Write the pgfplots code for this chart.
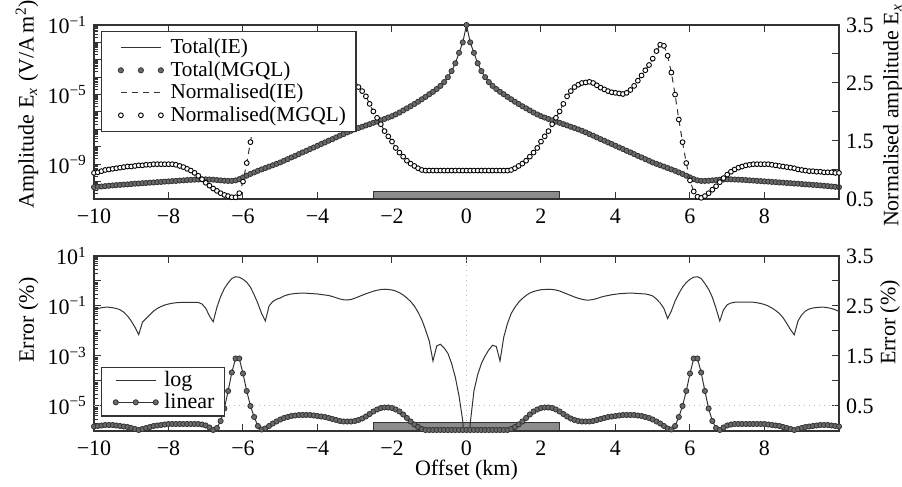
\documentclass[border=0pt]{standalone}
\usepackage{pgfplots}
\pgfplotsset{compat=1.18}
\usepackage{pgfplotstable}
\usepackage{fontspec}
\setmainfont{Liberation Serif}

\definecolor{ln}{HTML}{333333}
\definecolor{mk}{HTML}{6A6A6A}
\definecolor{rectc}{HTML}{8C8C8C}
\definecolor{grd}{HTML}{BBBBBB}

% x, log10 total amplitude, normalised amplitude, log10 error (log), error (linear)
\pgfplotstableread{
x t n le li
-10.0 -10.32 0.95 -1.13 0.09
-9.9 -10.3 0.96 -1.1 0.1
-9.8 -10.28 0.98 -1.07 0.11
-9.7 -10.26 1.0 -1.05 0.12
-9.6 -10.24 1.01 -1.05 0.12
-9.5 -10.22 1.02 -1.07 0.12
-9.4 -10.2 1.03 -1.1 0.11
-9.3 -10.19 1.04 -1.15 0.1
-9.2 -10.17 1.05 -1.25 0.09
-9.1 -10.16 1.06 -1.4 0.08
-9.0 -10.14 1.06 -1.6 0.06
-8.9 -10.12 1.07 -1.85 0.04
-8.8 -10.11 1.08 -2.15 0.02
-8.7 -10.09 1.08 -1.65 0.04
-8.6 -10.08 1.09 -1.5 0.06
-8.5 -10.06 1.09 -1.35 0.08
-8.4 -10.05 1.1 -1.2 0.1
-8.3 -10.03 1.1 -1.1 0.11
-8.2 -10.02 1.1 -1.02 0.12
-8.1 -10.0 1.1 -0.96 0.13
-8.0 -9.99 1.1 -0.92 0.14
-7.9 -9.97 1.1 -0.89 0.14
-7.8 -9.96 1.09 -0.87 0.14
-7.7 -9.94 1.07 -0.86 0.14
-7.6 -9.93 1.05 -0.85 0.14
-7.5 -9.91 1.02 -0.85 0.14
-7.4 -9.9 0.99 -0.85 0.14
-7.3 -9.89 0.95 -0.85 0.14
-7.2 -9.88 0.9 -0.86 0.14
-7.1 -9.87 0.84 -0.92 0.13
-7.0 -9.87 0.78 -1.09 0.11
-6.9 -9.88 0.73 -1.4 0.07
-6.8 -9.89 0.68 -1.63 0.02
-6.7 -9.91 0.64 -1.05 0.06
-6.6 -9.93 0.6 -0.62 0.2
-6.5 -9.95 0.57 -0.3 0.45
-6.4 -9.96 0.55 -0.08 0.8
-6.3 -9.96 0.53 0.1 1.17
-6.2 -9.93 0.53 0.17 1.45
-6.1 -9.86 0.6 0.15 1.45
-6.0 -9.76 0.8 0.07 1.15
-5.9 -9.66 1.12 -0.05 0.8
-5.8 -9.56 1.48 -0.25 0.5
-5.7 -9.47 1.87 -0.55 0.28
-5.6 -9.38 2.3 -0.9 0.1
-5.5 -9.3 2.68 -1.3 0.03
-5.4 -9.22 2.97 -1.6 0.05
-5.3 -9.14 3.14 -1.0 0.1
-5.2 -9.06 3.16 -0.82 0.15
-5.1 -8.98 3.05 -0.73 0.19
-5.0 -8.9 2.92 -0.68 0.23
-4.9 -8.8 2.81 -0.6 0.26
-4.8 -8.71 2.72 -0.55 0.28
-4.7 -8.61 2.63 -0.52 0.3
-4.6 -8.52 2.54 -0.5 0.31
-4.5 -8.42 2.45 -0.49 0.32
-4.4 -8.32 2.38 -0.49 0.32
-4.3 -8.23 2.33 -0.49 0.32
-4.2 -8.13 2.31 -0.5 0.32
-4.1 -8.04 2.32 -0.51 0.31
-4.0 -7.94 2.33 -0.52 0.3
-3.9 -7.84 2.34 -0.54 0.29
-3.8 -7.75 2.36 -0.56 0.28
-3.7 -7.65 2.39 -0.58 0.26
-3.6 -7.56 2.42 -0.62 0.24
-3.5 -7.46 2.46 -0.67 0.22
-3.4 -7.36 2.5 -0.72 0.2
-3.3 -7.27 2.52 -0.75 0.19
-3.2 -7.17 2.51 -0.76 0.19
-3.1 -7.08 2.5 -0.74 0.19
-3.0 -7.0 2.47 -0.69 0.2
-2.9 -6.92 2.43 -0.63 0.22
-2.8 -6.85 2.36 -0.57 0.25
-2.7 -6.77 2.27 -0.51 0.29
-2.6 -6.7 2.14 -0.46 0.34
-2.5 -6.62 2.01 -0.41 0.39
-2.4 -6.55 1.9 -0.37 0.43
-2.3 -6.48 1.79 -0.34 0.46
-2.2 -6.4 1.67 -0.33 0.47
-2.1 -6.32 1.58 -0.34 0.47
-2.0 -6.24 1.49 -0.36 0.46
-1.9 -6.14 1.38 -0.4 0.43
-1.8 -6.03 1.3 -0.47 0.39
-1.7 -5.91 1.23 -0.56 0.33
-1.6 -5.79 1.16 -0.68 0.26
-1.5 -5.67 1.11 -0.82 0.19
-1.4 -5.54 1.07 -1.0 0.13
-1.3 -5.41 1.03 -1.25 0.08
-1.2 -5.27 1.0 -1.55 0.04
-1.1 -5.13 0.99 -1.95 0.02
-1.0 -4.98 0.99 -2.4 0.02
-0.9 -4.84 0.99 -3.2 0.02
-0.8 -4.68 0.99 -2.6 0.02
-0.7 -4.5 0.99 -2.53 0.02
-0.6 -4.28 0.99 -2.68 0.02
-0.5 -4.0 0.99 -2.89 0.02
-0.4 -3.65 0.99 -3.3 0.02
-0.3 -3.2 0.99 -3.85 0.02
-0.2 -2.6 0.99 -4.6 0.02
-0.1 -2.0 0.99 -5.6 0.02
0.0 -1.0 0.99 -8 0.02
0.1 -2.0 0.99 -5.7 0.02
0.2 -2.6 0.99 -4.4 0.02
0.3 -3.2 0.99 -3.75 0.02
0.4 -3.65 0.99 -3.3 0.02
0.5 -4.0 0.99 -3.0 0.02
0.6 -4.28 0.99 -2.75 0.02
0.7 -4.5 0.99 -2.57 0.02
0.8 -4.68 0.99 -2.62 0.02
0.9 -4.84 0.99 -3.2 0.02
1.0 -4.98 0.99 -2.25 0.02
1.1 -5.13 0.99 -1.7 0.02
1.2 -5.27 1.0 -1.3 0.04
1.3 -5.41 1.03 -1.05 0.08
1.4 -5.54 1.07 -0.85 0.13
1.5 -5.67 1.11 -0.7 0.19
1.6 -5.79 1.16 -0.58 0.26
1.7 -5.91 1.23 -0.48 0.33
1.8 -6.03 1.3 -0.42 0.39
1.9 -6.14 1.38 -0.38 0.43
2.0 -6.24 1.49 -0.35 0.46
2.1 -6.32 1.58 -0.34 0.47
2.2 -6.4 1.67 -0.33 0.47
2.3 -6.48 1.79 -0.34 0.46
2.4 -6.55 1.9 -0.36 0.43
2.5 -6.62 2.01 -0.4 0.39
2.6 -6.7 2.14 -0.46 0.34
2.7 -6.77 2.27 -0.52 0.29
2.8 -6.85 2.36 -0.58 0.25
2.9 -6.92 2.43 -0.64 0.22
3.0 -7.0 2.47 -0.69 0.2
3.1 -7.08 2.5 -0.73 0.19
3.2 -7.17 2.51 -0.76 0.19
3.3 -7.27 2.52 -0.76 0.19
3.4 -7.36 2.5 -0.74 0.2
3.5 -7.46 2.46 -0.7 0.22
3.6 -7.56 2.42 -0.65 0.24
3.7 -7.65 2.39 -0.61 0.26
3.8 -7.75 2.36 -0.58 0.28
3.9 -7.84 2.34 -0.55 0.29
4.0 -7.94 2.33 -0.53 0.3
4.1 -8.04 2.32 -0.51 0.31
4.2 -8.13 2.31 -0.5 0.32
4.3 -8.23 2.33 -0.49 0.32
4.4 -8.32 2.38 -0.49 0.32
4.5 -8.42 2.45 -0.49 0.32
4.6 -8.52 2.54 -0.5 0.31
4.7 -8.61 2.63 -0.51 0.3
4.8 -8.71 2.72 -0.52 0.28
4.9 -8.8 2.81 -0.55 0.26
5.0 -8.9 2.92 -0.6 0.23
5.1 -8.98 3.05 -0.72 0.19
5.2 -9.06 3.16 -0.88 0.15
5.3 -9.14 3.14 -1.1 0.1
5.4 -9.22 2.97 -1.5 0.05
5.5 -9.3 2.68 -1.2 0.03
5.6 -9.38 2.3 -0.8 0.1
5.7 -9.47 1.87 -0.5 0.28
5.8 -9.56 1.48 -0.25 0.5
5.9 -9.66 1.12 -0.06 0.8
6.0 -9.76 0.82 0.07 1.15
6.1 -9.86 0.63 0.15 1.45
6.2 -9.93 0.54 0.17 1.45
6.3 -9.96 0.52 0.1 1.17
6.4 -9.96 0.55 -0.1 0.8
6.5 -9.95 0.6 -0.33 0.45
6.6 -9.93 0.66 -0.65 0.2
6.7 -9.91 0.72 -1.1 0.06
6.8 -9.89 0.79 -1.6 0.02
6.9 -9.88 0.86 -1.15 0.07
7.0 -9.87 0.92 -0.95 0.11
7.1 -9.87 0.97 -0.88 0.13
7.2 -9.88 1.01 -0.85 0.14
7.3 -9.89 1.04 -0.84 0.14
7.4 -9.9 1.06 -0.84 0.14
7.5 -9.91 1.08 -0.84 0.14
7.6 -9.93 1.09 -0.84 0.14
7.7 -9.94 1.1 -0.85 0.14
7.8 -9.96 1.1 -0.87 0.14
7.9 -9.97 1.1 -0.9 0.14
8.0 -9.99 1.1 -0.94 0.14
8.1 -10.0 1.1 -1.0 0.13
8.2 -10.02 1.09 -1.08 0.12
8.3 -10.03 1.08 -1.18 0.11
8.4 -10.05 1.07 -1.3 0.1
8.5 -10.06 1.06 -1.47 0.08
8.6 -10.08 1.05 -1.7 0.06
8.7 -10.09 1.04 -1.95 0.04
8.8 -10.11 1.03 -2.15 0.02
8.9 -10.12 1.01 -1.6 0.04
9.0 -10.14 1.0 -1.35 0.06
9.1 -10.16 0.99 -1.2 0.08
9.2 -10.17 0.98 -1.12 0.09
9.3 -10.19 0.98 -1.08 0.1
9.4 -10.2 0.97 -1.06 0.11
9.5 -10.22 0.97 -1.05 0.12
9.6 -10.24 0.96 -1.05 0.12
9.7 -10.26 0.96 -1.07 0.12
9.8 -10.28 0.96 -1.1 0.11
9.9 -10.3 0.95 -1.15 0.1
10.0 -10.32 0.95 -1.22 0.09
}\data

\pgfplotsset{
  base/.style={
    scale only axis, width=372.5pt,
    xmin=-10, xmax=10,
    xtick={-10,-8,...,8},
    xticklabels={−10,−8,−6,−4,−2,0,2,4,6,8},
    tick align=inside,
    axis line style={ln, line width=0.6pt},
    every tick/.style={ln, line width=0.5pt},
    major tick length=3.5pt,
    minor tick length=2pt,
    ticklabel style={font=\fontsize{11}{13}\selectfont},
    xticklabel style={yshift=-1.5pt},
    label style={font=\fontsize{11}{13}\selectfont},
  },
  leftax/.style={base, ytick pos=left, xtick pos=both},
  rightax/.style={base, axis y line*=right, axis x line=none,
    ytick={0.5,1,...,3.5}, yticklabels={0.5,,1.5,,2.5,,3.5}},
}

\begin{document}
\begin{tikzpicture}
% ---------------- top panel ----------------
\begin{axis}[leftax, at={(0,116pt)}, anchor=south west, height=87pt,
  ymode=log, ymin=1e-11, ymax=1e-1,
  ytickten={-11,...,-1},
  yticklabels={,,10\textsuperscript{−9},,,,10\textsuperscript{−5},,,,10\textsuperscript{−1}},
  ylabel={Amplitude E\textsubscript{\textit{x}} (V/A\,m\textsuperscript{2})},
  ylabel style={at={(axis description cs:-0.0899,0.545)}, anchor=center}]
\addplot[fill=rectc, draw=ln, line width=0.5pt] coordinates {(-2.5,1e-11) (-2.5,2.86e-11) (2.5,2.86e-11) (2.5,1e-11)} -- cycle;
\addplot[ln, line width=0.5pt] table[x=x, y expr=10^(\thisrow{t})] {\data};
\addplot[only marks, mark=*, mark size=1.3pt, mark options={fill=mk, draw=ln, line width=0.4pt}] table[x=x, y expr=10^(\thisrow{t})] {\data};
\end{axis}
\begin{axis}[rightax, at={(0,116pt)}, anchor=south west, height=87pt,
  ymin=0.5, ymax=3.5,
  ylabel={Normalised amplitude E\textsubscript{\textit{x}}},
  ylabel style={at={(axis description cs:1.0725,0.48)}, anchor=center},
  legend image code/.code={\path (-5.5pt,0pt) (23.5pt,0pt); \draw[#1] plot coordinates {(0pt,0pt) (10pt,0pt) (20pt,0pt)};},
  legend style={at={(axis description cs:0.009,0.966)}, anchor=north west,
    draw=ln, line width=0.6pt, fill=white, inner xsep=4pt, inner ysep=2.5pt,
    row sep=0pt, font=\fontsize{10.6}{12}\selectfont,
    nodes={inner ysep=1.2pt, inner xsep=1pt}},
  legend cell align=left]
\addlegendimage{ln, line width=0.5pt}
\addlegendentry{Total(IE)}
\addlegendimage{only marks, mark=*, mark size=1.3pt, mark options={fill=mk, draw=ln, line width=0.4pt}}
\addlegendentry{Total(MGQL)}
\addplot[ln, line width=0.5pt, dash pattern=on 3pt off 2.5pt] table[x=x, y=n] {\data};
\addlegendentry{Normalised(IE)}
\addplot[only marks, mark=*, mark size=1.2pt, mark options={fill=white, draw=black, line width=0.45pt}] table[x=x, y=n] {\data};
\addlegendentry{Normalised(MGQL)}
\end{axis}
% ---------------- bottom panel ----------------
\begin{axis}[leftax, at={(0,0)}, anchor=south west, height=87.5pt,
  ymode=log, ymin=1e-6, ymax=10,
  ytickten={-6,...,1},
  yticklabels={,10\textsuperscript{−5},,10\textsuperscript{−3},,10\textsuperscript{−1},,10\textsuperscript{1}},
  ylabel={Error (\%)},
  ylabel style={at={(axis description cs:-0.0879,0.634)}, anchor=center},
  xlabel={Offset (km)},
  xlabel style={at={(axis description cs:0.5,0)}, yshift=-19.5pt, anchor=center}]
\addplot[fill=rectc, draw=ln, line width=0.5pt] coordinates {(-2.5,1e-6) (-2.5,2.29e-6) (2.5,2.29e-6) (2.5,1e-6)} -- cycle;
\addplot[ln, line width=0.5pt] table[x=x, y expr=10^(\thisrow{le})] {\data};
\end{axis}
\begin{axis}[rightax, at={(0,0)}, anchor=south west, height=87.5pt,
  ymin=0, ymax=3.5,
  ylabel={Error (\%)},
  ylabel style={at={(axis description cs:1.0685,0.62)}, anchor=center},
  legend image code/.code={\path (-3pt,0pt) (23pt,0pt); \draw[#1] plot coordinates {(0pt,0pt) (10pt,0pt) (20pt,0pt)};},
  legend style={at={(axis description cs:0.009,0.082)}, anchor=south west,
    draw=ln, line width=0.6pt, fill=white, inner xsep=4pt, inner ysep=1.5pt,
    row sep=0pt, font=\fontsize{11}{13}\selectfont,
    nodes={inner ysep=0.8pt, inner xsep=1pt}},
  legend cell align=left]
\addplot[grd, line width=0.5pt, dotted, forget plot] coordinates {(-10,0.5) (10,0.5)};
\addplot[grd, line width=0.5pt, dotted, forget plot] coordinates {(0,0) (0,3.5)};
\addlegendimage{ln, line width=0.5pt}
\addlegendentry{log}
\addplot[ln, line width=0.5pt, mark=*, mark size=1.3pt, mark options={fill=mk, draw=ln, line width=0.4pt}] table[x=x, y=li] {\data};
\addlegendentry{linear}
\end{axis}
\pgfresetboundingbox
\useasboundingbox (-47pt,-28pt) rectangle (404pt,215.5pt);
\end{tikzpicture}
\end{document}
